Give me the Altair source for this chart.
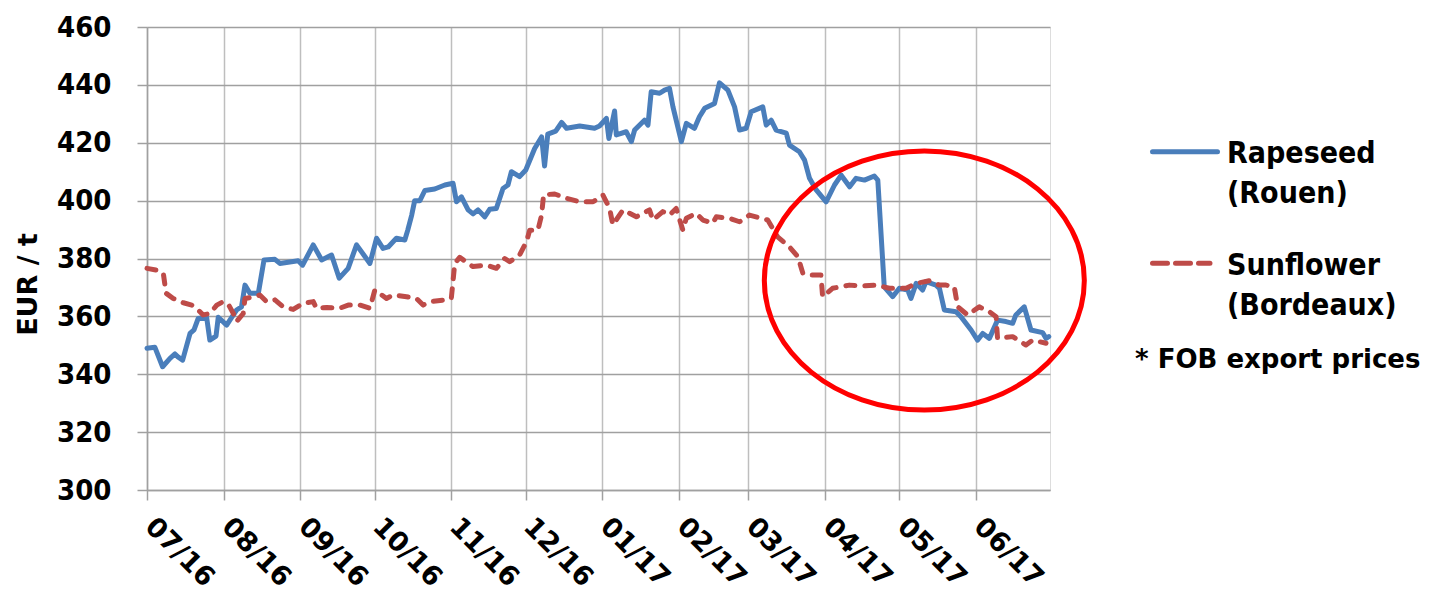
import altair as alt
import pandas as pd

# ---- data (days since 2016-07-01, EUR/t) ----
rape_days = [0, 3.2, 6.3, 9.3, 11.3, 12.5, 14.4, 17.4, 19, 20.7, 24.1, 25.4, 27.9, 28.8, 32.2, 33.5,
             36.2, 38.2, 39.6, 41.6, 45, 47.3, 51.7, 53.7, 61.1, 62.9, 67.2, 70.6, 74.6, 77.7, 81.3,
             84.7, 90.1, 92.8, 95.4, 97.5, 100.8, 104.2, 105.4, 107, 108.2, 110.3, 112.3, 116.3,
             120.4, 123.7, 125.1, 127.1, 129.8, 131.8, 133.8, 136.5, 138.5, 141.2, 143.9, 145.9,
             147.3, 150.6, 153.1, 156.7, 159.5, 160.7, 162, 165.2, 167.6, 169.6, 174.9, 180.9,
             182.9, 185.7, 186.7, 189, 189.7, 193.7, 195.8, 197.1, 201.1, 202.5, 203.8, 207.2,
             209.2, 211.2, 212.6, 216, 218, 221.3, 223.3, 225.4, 229.4, 231.4, 234.8, 237.5,
             239.5, 242.2, 244.2, 248.9, 250.3, 252.3, 254.3, 258.4, 259.7, 263.7, 265.8, 267.8,
             270.5, 274.5, 277.9, 280.6, 284, 286.6, 290, 294, 295.4, 298, 301.4, 304.1, 307.5,
             308.8, 310.9, 313.5, 314.9, 318.9, 320.3, 322.3, 327, 329, 333.1, 335.7, 337.8,
             340.5, 343.8, 347.2, 349.9, 351.2, 354.6, 357.3, 362, 363.4, 364.5]
rape_vals = [349, 349.3, 342.6, 345.5, 347, 346, 344.9, 354.1, 355.3, 359.3, 359.7, 351.8, 353.2,
             359.7, 357, 358.7, 362.2, 363.3, 370.8, 368, 368, 379.5, 379.7, 378.3, 379.2, 377.7,
             384.7, 379.5, 381.2, 373.2, 376.6, 384.7, 378.3, 387, 383.5, 384, 387, 386.4, 389.8,
             395, 400, 400, 403.5, 404, 405.4, 406, 399.6, 401.3, 396.8, 395.4, 396.8, 394.4, 397,
             397.3, 404.2, 405.4, 410, 408.3, 410.6, 418, 422, 412, 423, 424, 427, 425, 425.8, 425,
             425.8, 428.4, 421.5, 431, 422.7, 423.8, 420.4, 424.4, 427.8, 426.1, 437.6, 437.1,
             438.2, 438.8, 432.4, 420.4, 426.7, 425, 429, 431.9, 433.6, 440.7, 438.2, 432.4,
             424.4, 425, 430.7, 432.4, 426.1, 427.8, 424.4, 423.3, 419.2, 416.9, 414, 407.7,
             403.7, 399.6, 405.4, 408.8, 404.8, 407.7, 407.1, 408.5, 407.1, 370.2, 366.8, 369.7,
             369.1, 366.2, 371.4, 369.1, 372, 370.8, 369.7, 362.2, 361.6, 359.9, 355.3, 351.8,
             354.1, 352.4, 358.7, 358.2, 357.6, 360.5, 363.3, 355.3, 354.4, 352.4, 353]

sun_days = [0, 3.9, 6.6, 7.7, 10.6, 14.7, 18.1, 21.4, 22.7, 25.4, 28.2, 30.8, 32.8, 34.9, 36.2,
            38.9, 39.6, 43.6, 45.6, 48.3, 51.7, 55, 59.1, 63.1, 67.2, 68.5, 72.6, 77.9, 81.3, 86,
            90.1, 92.1, 96.8, 99.5, 104.9, 108.9, 111.6, 114.3, 121, 123, 124.4, 126.4, 129.8,
            131.8, 137.2, 141.2, 144.6, 146.6, 150.6, 153.4, 154.7, 158, 159.5, 160.3, 164.8,
            169.5, 174.9, 180.3, 184.3, 187, 188.3, 192.4, 197.8, 203.1, 204.5, 208.5, 211.2,
            213.9, 216.6, 218, 222, 224.7, 228.7, 230.1, 235.5, 239.5, 243.5, 250.9, 254.9,
            259.6, 263.1, 265.1, 268.5, 272.4, 273.1, 277.1, 283.9, 289.3, 294.7, 300.1, 306.8,
            310.9, 316.2, 320.3, 323, 326.3, 327.7, 331.7, 336.4, 340.5, 343.2, 343.8, 349.9,
            355.3, 358, 363.4]
sun_vals = [376.6, 376, 374.9, 368, 366.2, 364.7, 363.9, 361.6, 360.5, 361, 363.9, 365.1, 364.3,
            361, 358.2, 361, 366.2, 366.8, 367.4, 365.1, 365.7, 363.3, 362.4, 364.5, 365.1, 362.8,
            363.1, 362.8, 363.9, 363.9, 362.8, 369.1, 366.2, 367.4, 366.8, 366.2, 363.9, 365.1,
            365.7, 366.2, 378.3, 380.4, 378.3, 377.2, 377.7, 376.6, 380, 378.9, 381.2, 385.8,
            389.8, 389.8, 395, 402, 402.3, 400.8, 399.6, 399.6, 401.9, 397.3, 391.6, 396.8,
            394.4, 396.8, 393.3, 396.2, 395, 397.3, 389.8, 393.9, 395.6, 393.3, 392.2, 394.4,
            393.9, 392.7, 395, 393.3, 387.5, 384.1, 380.6, 374.9, 374.3, 374.3, 366.8, 369.7,
            370.8, 370.5, 370.8, 369.7, 369.7, 371.4, 372.3, 370.8, 370.8, 370.2, 363.3, 360.5,
            363.3, 361.6, 359.9, 352.4, 353, 350.1, 351.8, 350.7]

y_ticks = [300, 320, 340, 360, 380, 400, 420, 440, 460]
month_starts = [(2016, 7), (2016, 8), (2016, 9), (2016, 10), (2016, 11), (2016, 12),
                (2017, 1), (2017, 2), (2017, 3), (2017, 4), (2017, 5), (2017, 6)]

# annotation ellipse (center)
ell_day = [314.2]
ell_val = [372.4]

start = pd.Timestamp("2016-07-01", tz="UTC")
def to_dates(days):
    return [start + pd.Timedelta(days=float(d)) for d in days]

rape_df = pd.DataFrame({"date": to_dates(rape_days), "price": rape_vals})
sun_df = pd.DataFrame({"date": to_dates(sun_days), "price": sun_vals})
ell_df = pd.DataFrame({"date": to_dates(ell_day), "price": ell_val})

BLUE = "#4A7EBB"
RED = "#BE4B48"
TICK_FONT = "DejaVu Sans Condensed"

x_enc = alt.X(
    "date:T",
    scale=alt.Scale(type="utc",
                    domain=[alt.DateTime(year=2016, month=7, date=1, utc=True),
                            alt.DateTime(year=2017, month=7, date=1, utc=True)]),
    axis=alt.Axis(
        values=[alt.DateTime(year=y, month=m, date=1, utc=True) for y, m in month_starts],
        labelExpr="utcFormat(datum.value, '%m/%y')",
        labelAngle=45, labelAlign="left", labelBaseline="middle",
        labelFont="DejaVu Sans", labelFontWeight="bold", labelFontSize=27, labelColor="#000000",
        labelPadding=22, labelOffset=2, labelOverlap=False, labelFlush=False,
        tickSize=10, tickColor="#A0A0A0", tickWidth=1.5,
        grid=True, gridColor="#BEBEBE", gridWidth=1.5,
        domainColor="#A0A0A0", domainWidth=1.5, title=None,
    ),
)
y_enc = alt.Y(
    "price:Q",
    scale=alt.Scale(domain=[300, 460], nice=False, zero=False),
    axis=alt.Axis(
        values=y_ticks, labelFont=TICK_FONT, labelFontWeight="bold", labelFontSize=29,
        labelColor="#000000", labelPadding=26, labelOverlap=False,
        tickSize=10, tickColor="#A0A0A0", tickWidth=1.5,
        grid=True, gridColor="#A0A0A0", gridWidth=1.5,
        domainColor="#A0A0A0", domainWidth=1.5,
        title="EUR / t", titleFont="DejaVu Sans", titleFontWeight="bold", titleFontSize=27,
        titleColor="#000000", titleAngle=270, titleX=-111, titleY=257,
        titleAlign="center", titleBaseline="alphabetic",
    ),
)

rape = alt.Chart(rape_df).mark_line(color=BLUE, strokeWidth=5, strokeCap="round",
                                     strokeJoin="round").encode(x=x_enc, y=y_enc)
sun = alt.Chart(sun_df).mark_line(color=RED, strokeWidth=5, strokeCap="round",
                                   strokeJoin="round", strokeDash=[9, 10]).encode(x="date:T", y="price:Q")

ellipse = alt.Chart(ell_df).mark_point(
    shape="M -1 0 A 1 0.81 0 1 1 1 0 A 1 0.81 0 1 1 -1 0 Z",
    size=102400, filled=False, color="#FF0000", strokeWidth=5, opacity=1,
).encode(x="date:T", y="price:Q")

one = pd.DataFrame({"k": [0]})
LEG_FONT = "DejaVu Sans Condensed"

def leg_text(txt, x, y, font=LEG_FONT, size=30):
    return alt.Chart(one).mark_text(text=txt, font=font, fontWeight="bold", fontSize=size,
                                    align="left", baseline="alphabetic", color="#000000").encode(
        x=alt.value(x), y=alt.value(y))

leg_blue = alt.Chart(one).mark_rule(color=BLUE, strokeWidth=5, strokeCap="round").encode(
    x=alt.value(1005.5), x2=alt.value(1070.5), y=alt.value(124.7))
leg_red = alt.Chart(one).mark_rule(color=RED, strokeWidth=5, strokeCap="round",
                                   strokeDash=[15, 8]).encode(
    x=alt.value(1005.5), x2=alt.value(1063), y=alt.value(236.3))

chart = alt.layer(
    rape, sun, ellipse, leg_blue, leg_red,
    leg_text("Rapeseed", 1080, 136),
    leg_text("(Rouen)", 1080, 176),
    leg_text("Sunflower", 1080, 248),
    leg_text("(Bordeaux)", 1080, 288),
    leg_text("* FOB export prices", 988, 341, font="DejaVu Sans", size=26),
).properties(
    width=903, height=463,
    autosize=alt.AutoSizeParams(type="none"),
    padding={"left": 139, "top": 19, "right": 373, "bottom": 103},
).configure_view(stroke=None).configure(background="white")

chart.save("out.html", embed_options={"renderer": "svg", "actions": False})
